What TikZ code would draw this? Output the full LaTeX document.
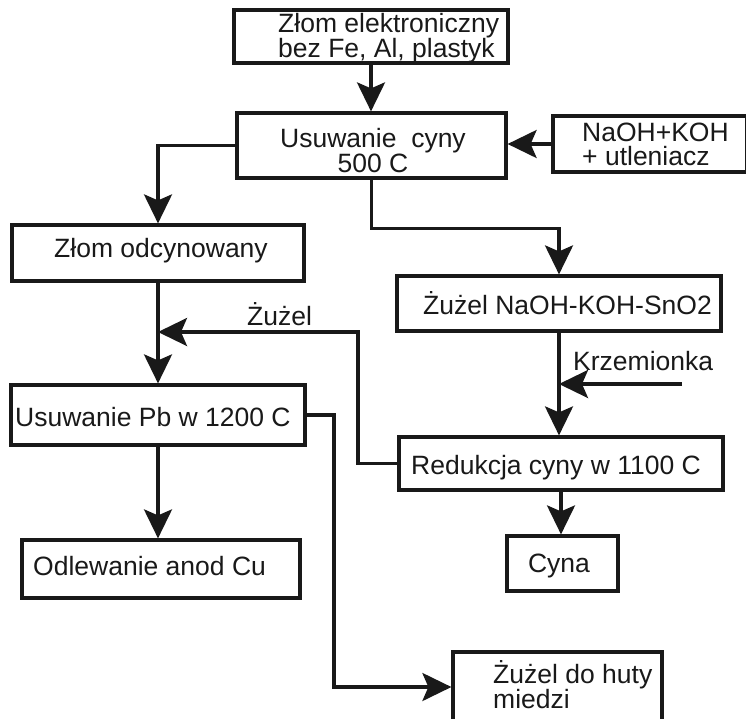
\documentclass[tikz,border=0pt]{standalone}
\usepackage{fontspec}
\setmainfont{Liberation Sans}
\usetikzlibrary{arrows.meta}
\begin{document}
\begin{tikzpicture}[x=1pt,y=-1pt,
  box/.style={draw=black!90, line width=3.2pt, inner sep=0pt, rectangle},
  txt/.style={inner sep=0pt, font=\fontsize{26.5}{25}\selectfont, text=black!90},
  conn/.style={draw=black!90, line width=3.2pt},
  arr/.style={conn, -{Stealth[length=29pt, width=28pt, inset=6pt]}}]
\useasboundingbox (0,0) rectangle (746,718);

% boxes
\node[box, minimum width=274pt, minimum height=53pt] (b1) at (371,36.5) {};
\node[box, minimum width=269pt, minimum height=65pt] (b2) at (371.5,145.5) {};
\node[box, minimum width=194pt, minimum height=56pt] (b3) at (650,144) {};
\node[box, minimum width=292pt, minimum height=56pt] (b4) at (158,253) {};
\node[box, minimum width=324pt, minimum height=55pt] (b5) at (559,303.5) {};
\node[box, minimum width=294pt, minimum height=60pt] (b6) at (158,415) {};
\node[box, minimum width=324pt, minimum height=53pt] (b7) at (561,463.5) {};
\node[box, minimum width=278pt, minimum height=58pt] (b8) at (161,569) {};
\node[box, minimum width=111pt, minimum height=55pt] (b9) at (562.5,563.5) {};
\node[box, minimum width=209pt, minimum height=88pt] (b10) at (557.5,696) {};

% texts (multi-line nodes: base anchor is on the last line)
\node[txt, anchor=base west, align=left] (t1) at (278,57) {Złom elektroniczny\\bez Fe, Al, plastyk};
\node[txt, anchor=base, align=center] (t2) at (373,172) {Usuwanie\ \ cyny\\500 C};
\node[txt, anchor=base west, align=left, font=\fontsize{26.5}{24}\selectfont] (t3) at (582,165) {NaOH+KOH\\+ utleniacz};
\node[txt, anchor=base] (t4) at (161,257) {Złom odcynowany};
\node[txt, anchor=base west] (t5) at (423,314) {Żużel NaOH-KOH-SnO2};
\node[txt, anchor=base west] (t6) at (15,426) {Usuwanie Pb w 1200 C};
\node[txt, anchor=base west] (t7) at (411,474) {Redukcja cyny w 1100 C};
\node[txt, anchor=base west] (t8) at (33,575) {Odlewanie anod Cu};
\node[txt, anchor=base] (t9) at (559,572) {Cyna};
\node[txt, anchor=base west, align=left] (t10) at (493,708) {Żużel do huty\\miedzi};
\node[txt, anchor=base west] (lz) at (247,325) {Żużel};
\node[txt, anchor=base west] (lk) at (573,370) {Krzemionka};

% helper coordinates
\coordinate (k) at (682,384);
\coordinate (r1) at (358,332);
\coordinate (r2) at (334,687);

% connectors
\draw[arr] (b1.south) -- (b1.south |- b2.north);
\draw[arr] (b3.west) -- (b3.west -| b2.east);
\draw[arr] (b2.west) -| (b4.north);
\draw[arr] (b2.south) -- ++(0,49) -| (b5.north);
\draw[arr] (b5.south) -- (b5.south |- b7.north);
\draw[arr] (k) -- (k -| b5.south);
\draw[arr] (b7.west) -| (r1) -- (r1 -| b4.south);
\draw[arr] (b4.south) -- (b4.south |- b6.north);
\draw[arr] (b6.south) -- (b6.south |- b8.north);
\draw[arr] (b6.east) -| (r2) -- (r2 -| b10.west);
\draw[arr] (b7.south) -- (b7.south |- b9.north);
\end{tikzpicture}
\end{document}
